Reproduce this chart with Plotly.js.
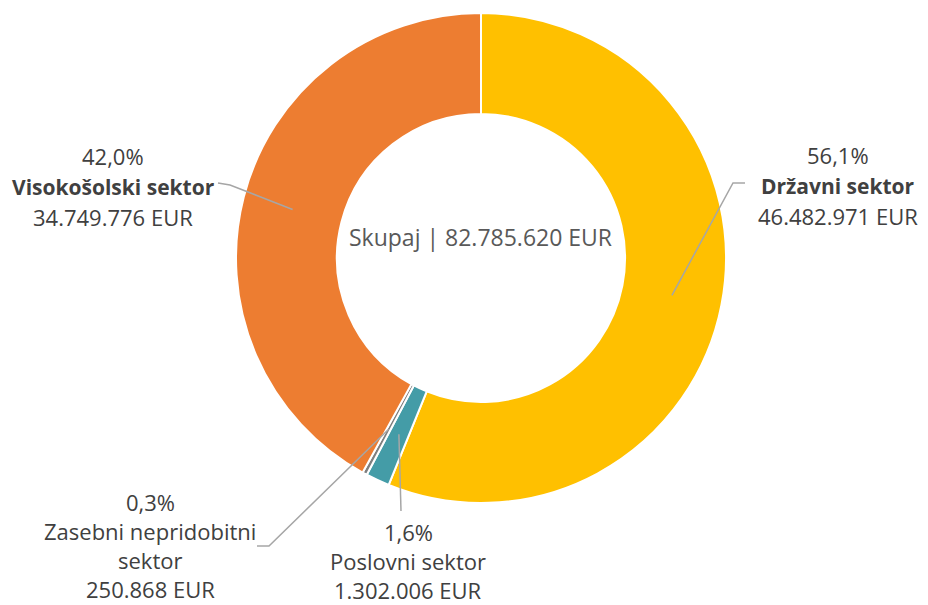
<!DOCTYPE html>
<html>
<head>
<meta charset="utf-8">
<script src="https://cdn.plot.ly/plotly-3.0.1.min.js"></script>
<style>html,body{margin:0;padding:0;background:#fff;}#chart{width:928px;height:605px;}</style>
</head>
<body>
<div id="chart"></div>
<script>
// ---- data ----
const sectors = ["Državni sektor", "Poslovni sektor", "Zasebni nepridobitni sektor", "Visokošolski sektor"];
const amounts = [46482971, 1302006, 250868, 34749776];
const colors = ["#FFC000", "#449CA7", "#7F7F7F", "#ED7D31"];
const centerLabel = "Skupaj | 82.785.620 EUR";

// ---- layout constants (pixels) ----
const W = 928, H = 605;
const CX = 481, CY = 258, R = 245, HOLE = 0.588;
const labelPos = [
  {x: 838, y: 155, bold: true,  lines: null, elbow: [[745,183],[733,183]]},
  {x: 408, y: 532, bold: false, lines: null, elbow: [[401,511]], lh: 29},
  {x: 150, y: 502, bold: false, lines: ["Zasebni nepridobitni", "sektor"], elbow: [[257,546],[269,546]], lh: 29},
  {x: 113, y: 156, bold: true,  lines: null, elbow: [[218,183],[230,185]]}
];
const LINE_H = 30.5;
const FONT = 'Open Sans, sans-serif';

const total = amounts.reduce((a,b)=>a+b,0);
const fmtPct = v => (v/total*100).toFixed(1).replace('.', ',') + '%';
const fmtEur = v => String(v).replace(/\B(?=(\d{3})+(?!\d))/g, '.') + ' EUR';

const px = x => x / W;
const py = y => 1 - y / H;

const annotations = [];
const shapes = [];
let cum = 0;
amounts.forEach((v, i) => {
  const mid = (cum + v/2) / total * 2 * Math.PI;
  cum += v;
  const rm = R * (1 + HOLE) / 2;
  const ix = CX + Math.sin(mid) * rm;
  const iy = CY - Math.cos(mid) * rm;
  const lp = labelPos[i];
  const nameLines = lp.lines || [sectors[i]];
  const lines = [{t: fmtPct(v), b: false}]
    .concat(nameLines.map(t => ({t: t, b: lp.bold})))
    .concat([{t: fmtEur(v), b: false}]);
  const lh = lp.lh || LINE_H;
  lines.forEach((ln, k) => {
    annotations.push({
      x: px(lp.x), y: py(lp.y + k*lh), xref: 'paper', yref: 'paper',
      xanchor: 'center', yanchor: 'middle', showarrow: false,
      text: ln.b ? '<b>' + ln.t + '</b>' : ln.t,
      font: {family: FONT, size: ln.b ? 21 : 22, color: '#404040'}
    });
  });
  const pts = lp.elbow.concat([[ix, iy]]);
  const path = pts.map((p, k) => (k ? 'L' : 'M') + px(p[0]).toFixed(5) + ',' + py(p[1]).toFixed(5)).join(' ');
  shapes.push({type: 'path', xref: 'paper', yref: 'paper', path: path,
    line: {color: '#A6A6A6', width: 1.5}});
});

annotations.push({
  x: px(CX), y: py(237), xref: 'paper', yref: 'paper', xanchor: 'center', yanchor: 'middle',
  showarrow: false, text: centerLabel,
  font: {family: FONT, size: 23, color: '#595959'}
});

const trace = {
  type: 'pie',
  labels: sectors,
  values: amounts,
  marker: {colors: colors, line: {color: '#FFFFFF', width: 2}},
  hole: HOLE,
  sort: false,
  direction: 'clockwise',
  rotation: 0,
  textinfo: 'none',
  hoverinfo: 'label+value+percent',
  domain: {x: [px(CX - R), px(CX + R)], y: [py(CY + R), py(CY - R)]}
};

const layout = {
  width: W, height: H,
  margin: {l: 0, r: 0, t: 0, b: 0},
  paper_bgcolor: '#FFFFFF',
  showlegend: false,
  annotations: annotations,
  shapes: shapes
};

Plotly.newPlot('chart', [trace], layout, {displayModeBar: false, staticPlot: true});
</script>
</body>
</html>
